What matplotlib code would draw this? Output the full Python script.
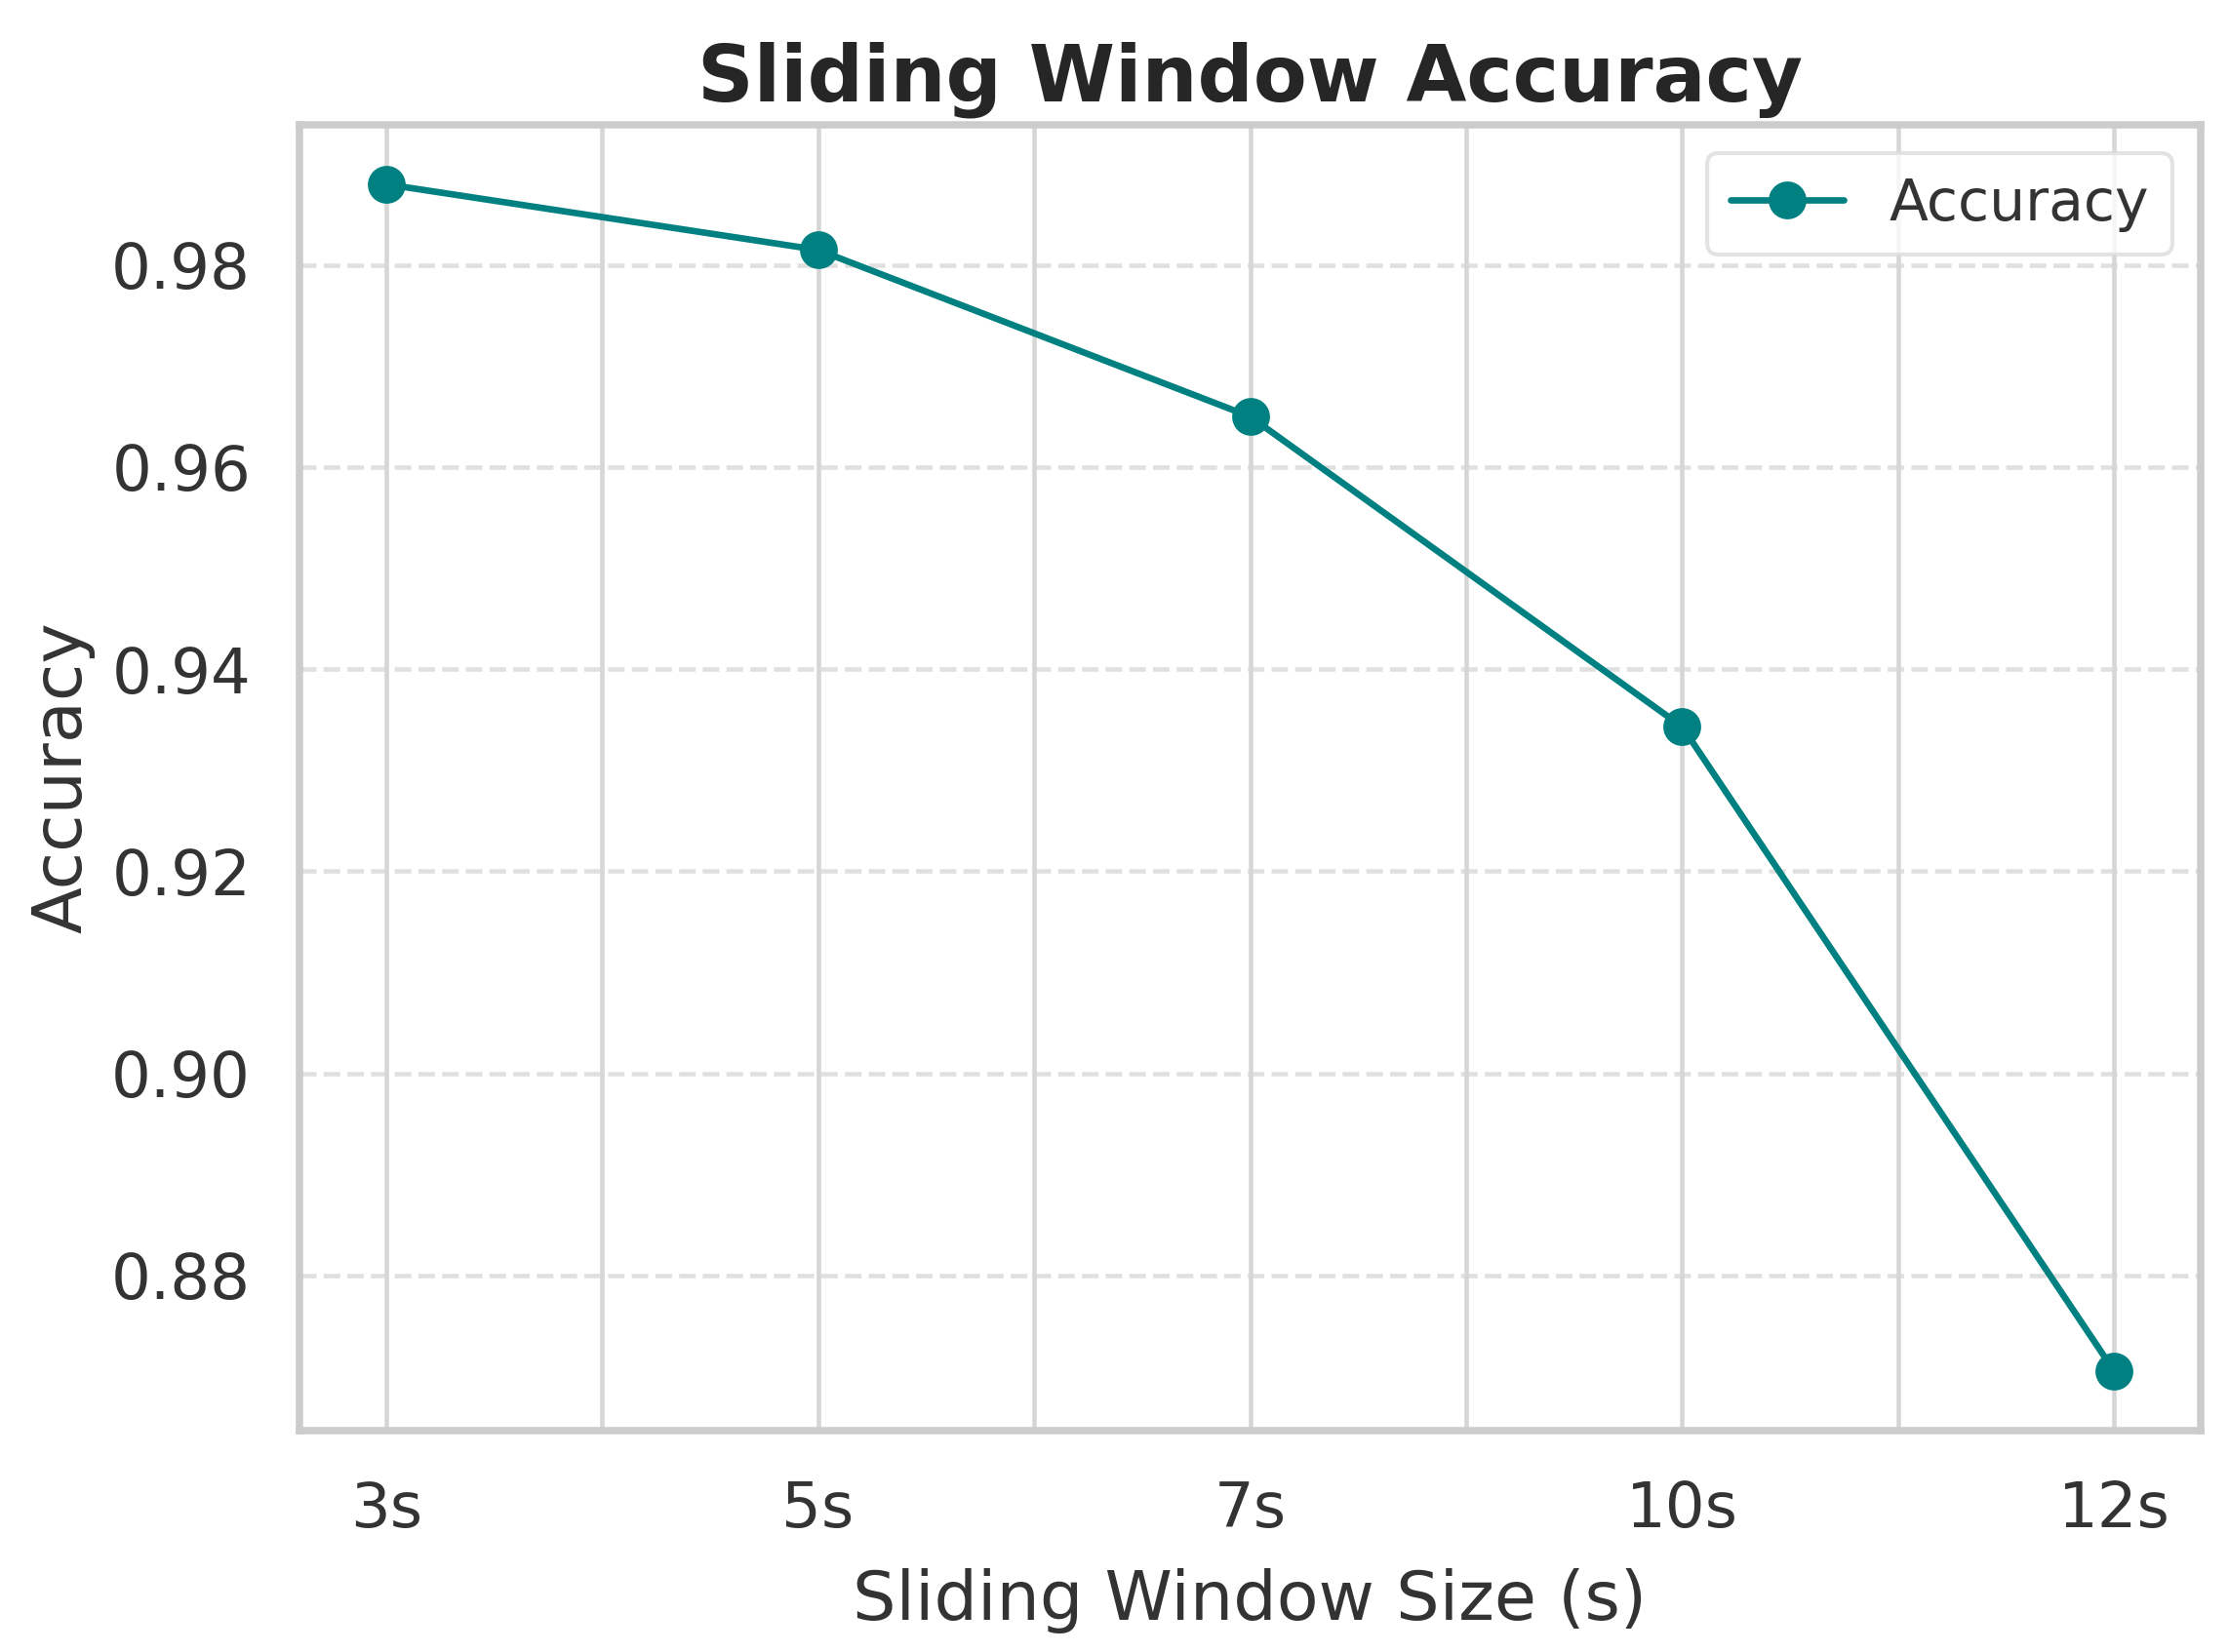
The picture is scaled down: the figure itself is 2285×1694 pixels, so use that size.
import matplotlib
matplotlib.use("Agg")
import matplotlib.pyplot as plt
import seaborn as sns
from matplotlib.ticker import MultipleLocator

window_labels = ["3s", "5s", "7s", "10s", "12s"]
accuracy = [0.988, 0.9815, 0.965, 0.9343, 0.8705]
y_ticks = [0.88, 0.90, 0.92, 0.94, 0.96, 0.98]

sns.set_style("whitegrid")
plt.rcParams['font.family'] = ['DejaVu Sans']

fig, ax = plt.subplots(figsize=(2285 / 300, 1694 / 300), dpi=300)
fig.subplots_adjust(left=0.1344, right=0.9873, top=0.9244, bottom=0.134)

x = list(range(len(window_labels)))
ax.plot(x, accuracy, marker='o', color='teal', linewidth=1.6,
        markersize=8.3, label='Accuracy')

ax.set_xticks(x)
ax.set_xticklabels(window_labels)
ax.xaxis.set_minor_locator(MultipleLocator(0.5))
ax.set_yticks(y_ticks)
ax.set_yticklabels([f"{v:.2f}" for v in y_ticks])

ax.grid(False)
ax.grid(True, axis='x', which='both', color='#d6d6d6', linewidth=1.1, linestyle='-')
ax.grid(True, axis='y', which='major', color='#d6d6d6', linewidth=1.1,
        linestyle='--', alpha=0.75)
ax.tick_params(axis='both', which='both', length=0, pad=12, labelsize=15.4,
               labelcolor='#333333')

for s in ax.spines.values():
    s.set_color('#cccccc')
    s.set_linewidth(1.8)

ax.set_title('Sliding Window Accuracy', fontsize=19.2, fontweight='bold',
             color='#262626')
ax.set_xlabel('Sliding Window Size (s)', fontsize=16.8, color='#333333',
              labelpad=7)
ax.set_ylabel('Accuracy', fontsize=16.8, color='#333333')

leg = ax.legend(loc='upper right', fontsize=14, frameon=True)
leg.get_frame().set_edgecolor('#dddddd')
for t in leg.get_texts():
    t.set_color('#333333')

fig.savefig('out.png', dpi=300)
plt.close(fig)
